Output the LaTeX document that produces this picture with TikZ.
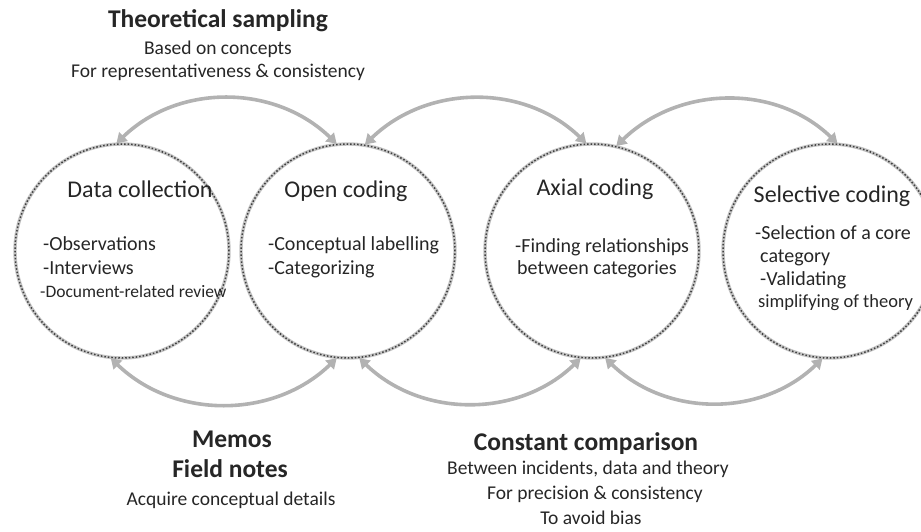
\documentclass[tikz,border=0pt]{standalone}
\usepackage{fontspec}
\setmainfont{Carlito}
\usetikzlibrary{arrows.meta}
\begin{document}
\begin{tikzpicture}[x=1pt,y=1pt,
  stage/.style={circle, minimum size=214pt, inner sep=0pt,
    draw=black!75, line width=1.5pt, dotted,
    preaction={draw=gray!45, line width=3.4pt, solid}},
  loop/.style={draw=gray!60, line width=3.6pt,
    {Triangle[width=12pt,length=10pt]}-{Triangle[width=12pt,length=10pt]}},
  txt/.style={inner sep=0pt, text=black!85, text height=0.7em, text depth=0.2em},
  head/.style={txt, font=\fontsize{24}{28}\selectfont},
  item/.style={txt, anchor=west, font=\fontsize{20}{24}\selectfont},
  bighead/.style={txt, font=\bfseries\fontsize{25.5}{30}\selectfont},
  note/.style={txt, font=\fontsize{19.5}{24}\selectfont}
]
\useasboundingbox (0,0) rectangle (921,531);

% the four coding stages
\node[stage] (c1) at (122,280) {};
\node[stage] (c2) at (348,280) {};
\node[stage] (c3) at (592,280) {};
\node[stage] (c4) at (830,280) {};

% cyclic arrows linking neighbouring stages
\draw[loop] (c1.93) to[out=44,in=136] (c2.96);
\draw[loop] (c2.81) to[out=44,in=136] (c3.93);
\draw[loop] (c3.77) to[out=44,in=136] (c4.86);
\draw[loop] (c2.-96) to[out=-136,in=-44] (c1.-96);
\draw[loop] (c3.-96) to[out=-136,in=-44] (c2.-84);
\draw[loop] (c4.-94) to[out=-136,in=-44] (c3.-83);

% stage contents
\node[head] (h1) at (140,336) {Data collection};
\node[item] (b1a) at (43,283) {-Observations};
\node[item] (b1b) at (43,259) {-Interviews};
\node[item, font=\fontsize{17.5}{21}\selectfont] (b1c) at (40,236) {-Document-related review};

\node[head] (h2) at (346,336) {Open coding};
\node[item] (b2a) at (268,283) {-Conceptual labelling};
\node[item] (b2b) at (268,259) {-Categorizing};

\node[head] (h3) at (595,338) {Axial coding};
\node[item] (b3a) at (515,281) {-Finding relationships};
\node[item] (b3b) at (517,259) {between categories};

\node[head] (h4) at (832,331) {Selective coding};
\node[item] (b4a) at (755,294) {-Selection of a core};
\node[item] (b4b) at (760,271) {category};
\node[item] (b4c) at (760,248) {-Validating};
\node[item, font=\fontsize{18.5}{22}\selectfont] (b4d) at (758,226) {simplifying of theory};

% theoretical sampling
\node[bighead] (t1) at (218,506) {Theoretical sampling};
\node[note] (t2) at (218,479) {Based on concepts};
\node[note] (t3) at (218,456) {For representativeness \& consistency};

% memos
\node[bighead] (m1) at (232,86) {Memos};
\node[bighead] (m2) at (230,56) {Field notes};
\node[note] (m3) at (231,28) {Acquire conceptual details};

% constant comparison
\node[bighead] (k1) at (586,83) {Constant comparison};
\node[note] (k2) at (588,59) {Between incidents, data and theory};
\node[note] (k3) at (595,34) {For precision \& consistency};
\node[note] (k4) at (591,9) {To avoid bias};
\end{tikzpicture}
\end{document}
